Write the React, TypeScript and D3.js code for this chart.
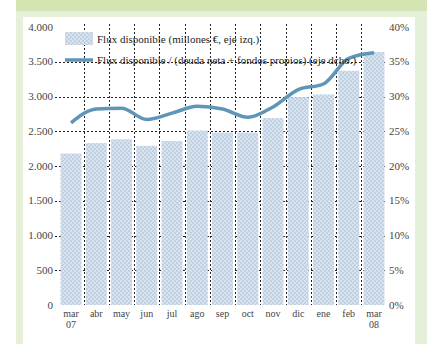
import { useEffect, useRef } from "react"
import * as d3 from "d3"

const months = ["mar", "abr", "may", "jun", "jul", "ago", "sep", "oct", "nov", "dic", "ene", "feb", "mar"]
const years = ["07", "", "", "", "", "", "", "", "", "", "", "", "08"]
const flux = [2180, 2330, 2385, 2290, 2360, 2510, 2480, 2480, 2690, 2990, 3030, 3370, 3640]
const ratio = [26.2, 28.2, 28.3, 26.7, 27.6, 28.6, 28.2, 27.0, 28.5, 31.0, 31.8, 35.5, 36.3]
const leftTicks = [0, 500, 1000, 1500, 2000, 2500, 3000, 3500, 4000]
const rightTicks = [0, 5, 10, 15, 20, 25, 30, 35, 40]
const legendLabels = [
    "Flux disponible (millones €, eje izq.)",
    "Flux disponible / (deuda neta + fondos propios) (eje dcho.)"
]

export default function App() {
    const ref = useRef<SVGSVGElement>(null)

    useEffect(() => {
        const svg = d3.select(ref.current)
        svg.selectAll("*").remove()

        const font = "'Liberation Serif', 'DejaVu Serif', serif"
        const x = d3.scaleBand<number>().domain(d3.range(months.length)).range([58.4, 386.6]).paddingInner(0.17).paddingOuter(0.085)
        const yL = d3.scaleLinear().domain([0, 4000]).range([305, 27])
        const yR = d3.scaleLinear().domain([0, 40]).range([305, 27])
        const fmt = (v: number) => d3.format(",")(v).replace(/,/g, ".")

        // frame
        svg.append("rect").attr("x", 16).attr("y", 0).attr("width", 411).attr("height", 344).attr("fill", "#e6efd7")
        svg.append("rect").attr("x", 16).attr("y", 0).attr("width", 411).attr("height", 11).attr("fill", "#d4e4b2")
        svg.append("rect").attr("x", 23).attr("y", 17).attr("width", 392).attr("height", 327).attr("fill", "#ffffff")

        const defs = svg.append("defs")
        const pat = defs.append("pattern").attr("id", "barpat").attr("patternUnits", "userSpaceOnUse")
            .attr("width", 4).attr("height", 4)
        pat.append("rect").attr("width", 4).attr("height", 4).attr("fill", "#c0d1e3")
        pat.append("rect").attr("width", 2).attr("height", 2).attr("fill", "#d8e3ee")
        pat.append("rect").attr("x", 2).attr("y", 2).attr("width", 2).attr("height", 2).attr("fill", "#d8e3ee")

        // grid
        const grid = svg.append("g").attr("stroke", "#222").attr("stroke-width", 1).attr("stroke-dasharray", "2,2")
        grid.selectAll("line.h").data(leftTicks.filter(t => t > 0 && t < 4000)).join("line")
            .attr("class", "h")
            .attr("x1", 55).attr("x2", 387)
            .attr("y1", d => Math.round(yL(d)) + 0.5).attr("y2", d => Math.round(yL(d)) + 0.5)
        grid.selectAll("line.v").data(d3.range(1, months.length)).join("line")
            .attr("class", "v")
            .attr("x1", d => Math.round(x(d)! - x.step() * x.paddingInner() / 2) + 0.5)
            .attr("x2", d => Math.round(x(d)! - x.step() * x.paddingInner() / 2) + 0.5)
            .attr("y1", 24).attr("y2", 305)

        // bars
        svg.append("g").selectAll("rect").data(flux).join("rect")
            .attr("x", (_, i) => x(i)!)
            .attr("width", x.bandwidth())
            .attr("y", d => yL(d))
            .attr("height", d => yL(0) - yL(d))
            .attr("fill", "url(#barpat)")

        // line
        const line = d3.line<number>().x((_, i) => x(i)! + x.bandwidth() / 2).y(d => yR(d)).curve(d3.curveMonotoneX)
        svg.append("path").datum(ratio).attr("d", line).attr("fill", "none")
            .attr("stroke", "#5e95b8").attr("stroke-width", 3.5).attr("stroke-linejoin", "round")

        // axes
        svg.append("g").selectAll("text").data(leftTicks).join("text")
            .attr("x", 53).attr("y", d => yL(d) + 3.5)
            .attr("text-anchor", "end").attr("font-family", font).attr("font-size", 11).attr("fill", "#444")
            .text(d => fmt(d))
        svg.append("g").selectAll("text").data(rightTicks).join("text")
            .attr("x", 389).attr("y", d => yR(d) + 3.5)
            .attr("font-family", font).attr("font-size", 11).attr("fill", "#444")
            .text(d => d + "%")
        const xl = svg.append("g").attr("font-family", font).attr("font-size", 10).attr("fill", "#444").attr("text-anchor", "middle")
        xl.selectAll("text.m").data(months).join("text").attr("class", "m")
            .attr("x", (_, i) => x(i)! + x.bandwidth() / 2).attr("y", 317).text(d => d)
        xl.selectAll("text.y").data(years).join("text").attr("class", "y")
            .attr("x", (_, i) => x(i)! + x.bandwidth() / 2).attr("y", 328).text(d => d)

        // legend
        const lg = svg.append("g")
        lg.append("rect").attr("x", 65).attr("y", 32).attr("width", 28).attr("height", 13).attr("fill", "url(#barpat)")
        lg.append("line").attr("x1", 65).attr("x2", 93).attr("y1", 60).attr("y2", 60)
            .attr("stroke", "#5e95b8").attr("stroke-width", 3.5)
        lg.selectAll("text").data(legendLabels).join("text")
            .attr("x", 97).attr("y", (_, i) => 43 + i * 21)
            .attr("font-family", font).attr("font-size", 11).attr("fill", "#222")
            .text(d => d)
    })

    return (
        <svg ref={ref} width={441} height={344} style={{ position: "absolute", left: 0, top: 0 }}></svg>
    )
}
